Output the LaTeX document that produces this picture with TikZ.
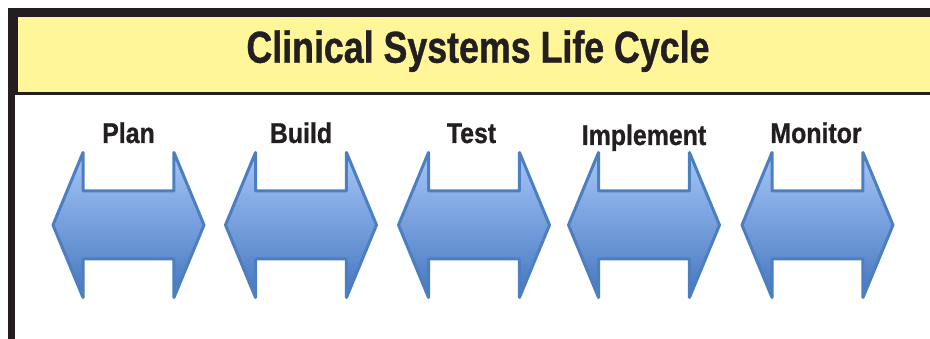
\documentclass[tikz,border=0pt]{standalone}
\usepackage{fontspec}
\usetikzlibrary{shapes.arrows}
\newfontfamily\titlefont[FakeStretch=0.80, BoldFeatures={FakeBold=0.8}]{Liberation Sans}
\newfontfamily\stagefont[FakeStretch=0.87, BoldFeatures={FakeBold=0.8}]{Liberation Sans}
\definecolor{frameblack}{HTML}{231F20}
\definecolor{bandyellow}{HTML}{FFF599}
\definecolor{arrowline}{HTML}{4C7FC0}
\definecolor{arrowlight}{HTML}{A6C6F7}
\definecolor{arrowdark}{HTML}{4576C0}
\tikzset{
  stage/.style={draw=arrowline, line width=3pt, line join=round, shape=double arrow,
    top color=arrowlight, bottom color=arrowdark,
    inner xsep=0pt, inner ysep=32.5pt, minimum height=151pt,
    double arrow head extend=38.5pt, double arrow tip angle=135},
  stagelabel/.style={anchor=base, font=\stagefont\bfseries\fontsize{28.6}{30}\selectfont,
    text=frameblack, inner sep=0pt}
}
\begin{document}
\begin{tikzpicture}[x=1pt,y=-1pt]
\useasboundingbox (0,0) rectangle (930,339);
% frame and title band
\fill[white] (0,0) rectangle (930,339);
\draw[frameblack,line width=6.5pt] (11.5,339) -- (11.5,11) -- (930,11);
\draw[frameblack,line width=2.5pt,fill=bandyellow] (16.5,15.5) rectangle (935,93.5);
\node[anchor=base, font=\titlefont\bfseries\fontsize{44.7}{48}\selectfont, text=frameblack, inner sep=0pt] (title) at (478,62.7) {Clinical Systems Life Cycle};

% the five stages
\node[stage] (plan) at (128.5,225) {};
\node[stage] (build) at (301,225) {};
\node[stage] (test) at (474,225) {};
\node[stage] (implement) at (644,225) {};
\node[stage] (monitor) at (817.5,225) {};

\node[stagelabel] (planlabel) at (128.5,143) {Plan};
\node[stagelabel] (buildlabel) at (301,143) {Build};
\node[stagelabel] (testlabel) at (471.5,143) {Test};
\node[stagelabel] (implementlabel) at (644,145) {Implement};
\node[stagelabel] (monitorlabel) at (816,143) {Monitor};
\end{tikzpicture}
\end{document}
